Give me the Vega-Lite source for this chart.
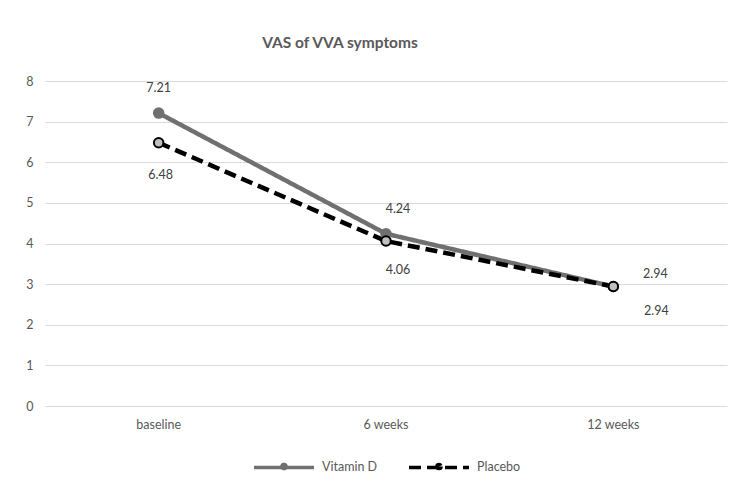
{
  "$schema": "https://vega.github.io/schema/vega-lite/v6.json",
  "width": 682,
  "height": 325,
  "autosize": {"type": "none"},
  "padding": {"left": 45, "top": 81, "right": 16, "bottom": 82},
  "background": "white",
  "title": {
    "text": "VAS of VVA symptoms",
    "anchor": "middle",
    "dx": -46,
    "offset": 24,
    "font": "Lato",
    "fontSize": 15.5,
    "fontWeight": "bold",
    "color": "#595959"
  },
  "config": {
    "view": {"stroke": null},
    "font": "Lato",
    "axis": {
      "labelFont": "Lato",
      "labelFontSize": 12.5,
      "labelColor": "#595959",
      "gridColor": "#d9d9d9",
      "gridWidth": 1,
      "domainColor": "#d9d9d9",
      "ticks": false,
      "title": null
    },
    "legend": {
      "labelFont": "Lato",
      "labelFontSize": 12.5,
      "labelColor": "#595959"
    }
  },
  "data": {
    "values": [
      {"time": "baseline", "series": "Vitamin D", "value": 7.21},
      {"time": "6 weeks", "series": "Vitamin D", "value": 4.24},
      {"time": "12 weeks", "series": "Vitamin D", "value": 2.94},
      {"time": "baseline", "series": "Placebo", "value": 6.48},
      {"time": "6 weeks", "series": "Placebo", "value": 4.06},
      {"time": "12 weeks", "series": "Placebo", "value": 2.94}
    ]
  },
  "encoding": {
    "x": {
      "field": "time",
      "type": "nominal",
      "sort": ["baseline", "6 weeks", "12 weeks"],
      "scale": {"type": "band", "paddingInner": 0, "paddingOuter": 0},
      "axis": {"labelAngle": 0, "labelPadding": 12, "grid": false, "domain": false}
    },
    "y": {
      "field": "value",
      "type": "quantitative",
      "scale": {"domain": [0, 8], "nice": false},
      "axis": {"values": [0, 1, 2, 3, 4, 5, 6, 7, 8], "labelOverlap": false, "domain": false, "labelPadding": 12}
    }
  },
  "layer": [
    {
      "mark": {"type": "line", "strokeWidth": 4.5},
      "encoding": {
        "stroke": {
          "field": "series",
          "type": "nominal",
          "sort": ["Vitamin D", "Placebo"],
          "scale": {"domain": ["Vitamin D", "Placebo"], "range": ["#707070", "#000000"]},
          "legend": {
            "title": null,
            "orient": "none",
            "legendX": 207,
            "legendY": 354,
            "direction": "horizontal",
            "symbolType": "M-1,0L1,0M0.07,-0.03A0.07,0.07 0 1,1 -0.07,-0.03A0.07,0.07 0 1,1 0.07,-0.03",
            "symbolSize": 3600,
            "symbolStrokeWidth": 3.5,
            "labelOffset": 6,
            "columnPadding": 24,
            "encode": {
              "symbols": {
                "update": {
                  "fill": [
                    {"test": "datum.value === 'Vitamin D'", "value": "#707070"},
                    {"value": "#bfbfbf"}
                  ]
                }
              }
            }
          }
        },
        "strokeDash": {
          "field": "series",
          "type": "nominal",
          "sort": ["Vitamin D", "Placebo"],
          "scale": {"domain": ["Vitamin D", "Placebo"], "range": [[1, 0], [12, 6]]},
          "legend": {
            "title": null,
            "orient": "none",
            "legendX": 207,
            "legendY": 354,
            "direction": "horizontal",
            "symbolType": "M-1,0L1,0M0.07,-0.03A0.07,0.07 0 1,1 -0.07,-0.03A0.07,0.07 0 1,1 0.07,-0.03",
            "symbolSize": 3600,
            "symbolStrokeWidth": 3.5,
            "labelOffset": 6,
            "columnPadding": 24
          }
        }
      }
    },
    {
      "mark": {"type": "point", "filled": false, "size": 90, "strokeWidth": 2, "opacity": 1},
      "encoding": {
        "stroke": {"field": "series", "type": "nominal", "legend": null},
        "fill": {
          "field": "series",
          "type": "nominal",
          "scale": {"domain": ["Vitamin D", "Placebo"], "range": ["#707070", "#bfbfbf"]},
          "legend": null
        }
      }
    },
    {
      "transform": [{"filter": "datum.series === 'Vitamin D' && datum.time === 'baseline'"}],
      "mark": {"type": "text", "dy": -25, "fontSize": 12.5, "color": "#404040", "font": "Lato"},
      "encoding": {"text": {"field": "value", "type": "quantitative", "format": ".2f"}}
    },
    {
      "transform": [{"filter": "datum.series === 'Vitamin D' && datum.time === '6 weeks'"}],
      "mark": {"type": "text", "dx": 12, "dy": -25, "fontSize": 12.5, "color": "#404040", "font": "Lato"},
      "encoding": {"text": {"field": "value", "type": "quantitative", "format": ".2f"}}
    },
    {
      "transform": [{"filter": "datum.series === 'Vitamin D' && datum.time === '12 weeks'"}],
      "mark": {"type": "text", "dx": 42, "dy": -13, "fontSize": 12.5, "color": "#404040", "font": "Lato"},
      "encoding": {"text": {"field": "value", "type": "quantitative", "format": ".2f"}}
    },
    {
      "transform": [{"filter": "datum.series === 'Placebo' && datum.time === 'baseline'"}],
      "mark": {"type": "text", "dx": 2, "dy": 32, "fontSize": 12.5, "color": "#404040", "font": "Lato"},
      "encoding": {"text": {"field": "value", "type": "quantitative", "format": ".2f"}}
    },
    {
      "transform": [{"filter": "datum.series === 'Placebo' && datum.time === '6 weeks'"}],
      "mark": {"type": "text", "dx": 12, "dy": 29, "fontSize": 12.5, "color": "#404040", "font": "Lato"},
      "encoding": {"text": {"field": "value", "type": "quantitative", "format": ".2f"}}
    },
    {
      "transform": [{"filter": "datum.series === 'Placebo' && datum.time === '12 weeks'"}],
      "mark": {"type": "text", "dx": 43, "dy": 24, "fontSize": 12.5, "color": "#404040", "font": "Lato"},
      "encoding": {"text": {"field": "value", "type": "quantitative", "format": ".2f"}}
    }
  ]
}
